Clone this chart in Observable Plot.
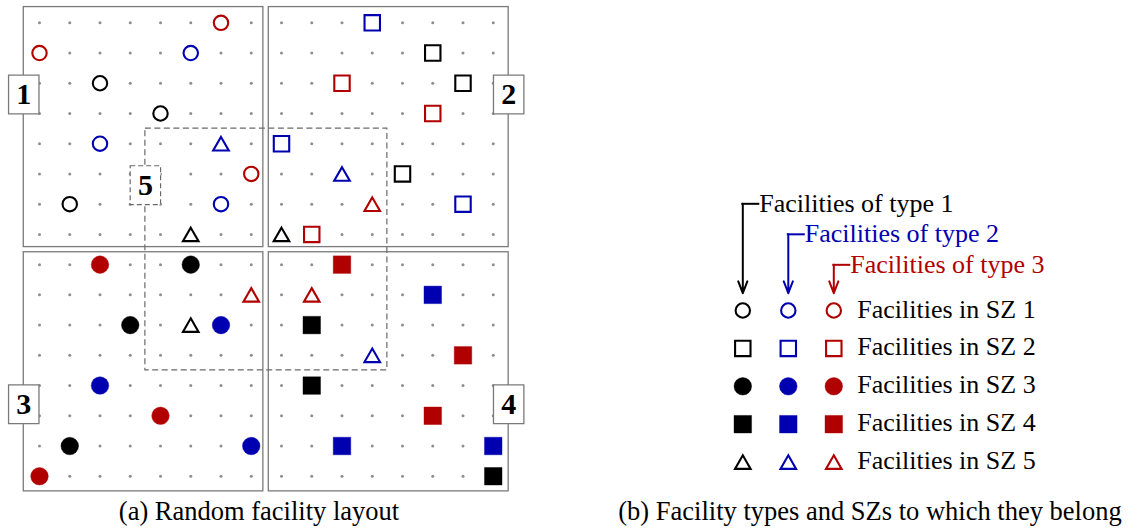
<!DOCTYPE html>
<html>
<head>
<meta charset="utf-8">
<script src="https://cdn.jsdelivr.net/npm/d3@7"></script>
<script src="https://cdn.jsdelivr.net/npm/@observablehq/plot@0.6"></script>
<style>
  body { margin: 0; background: #fff; }
  #figure { position: relative; width: 1134px; height: 529px; overflow: hidden; font-family: "Liberation Serif", serif; }
  #panels { display: flex; }
  #panels svg { display: block; }
  .caption { position: absolute; top: 496px; transform: translateX(-50%); font-size: 26.5px; line-height: 30px; white-space: nowrap; color: #000; }
</style>
</head>
<body>
<div id="figure">
  <div id="panels"></div>
  <div class="caption" style="left:259px">(a) Random facility layout</div>
  <div class="caption" style="left:870px">(b) Facility types and SZs to which they belong</div>
</div>
<script>
// 16 x 16 lattice of candidate sites
const gridCols = d3.range(16);
const gridRows = d3.range(16);

const typeNames = ["type 1", "type 2", "type 3"];
const typeColors = ["#000000", "#0000b0", "#b00000"];
const zoneNames = ["SZ 1", "SZ 2", "SZ 3", "SZ 4", "SZ 5"];
const zoneTags = ["1", "2", "3", "4", "5"];

// sub-zone cell ranges: [firstCol, lastCol, firstRow, lastRow]
const zoneCells = [[0, 7, 0, 7], [8, 15, 0, 7], [0, 7, 8, 15], [8, 15, 8, 15], [4, 11, 4, 11]];

// facility sites for each type: [col, row, zone]
const type1Sites = [[2, 2, 1], [4, 3, 1], [1, 6, 1], [13, 1, 2], [14, 2, 2], [12, 5, 2], [5, 8, 3], [3, 10, 3], [1, 14, 3], [9, 10, 4], [9, 12, 4], [15, 15, 4], [5, 7, 5], [8, 7, 5], [5, 10, 5]];
const type2Sites = [[5, 1, 1], [2, 4, 1], [6, 6, 1], [11, 0, 2], [8, 4, 2], [14, 6, 2], [6, 10, 3], [2, 12, 3], [7, 14, 3], [13, 9, 4], [10, 14, 4], [15, 14, 4], [6, 4, 5], [10, 5, 5], [11, 11, 5]];
const type3Sites = [[6, 0, 1], [0, 1, 1], [7, 5, 1], [10, 2, 2], [13, 3, 2], [9, 7, 2], [2, 8, 3], [4, 13, 3], [0, 15, 3], [10, 8, 4], [14, 11, 4], [13, 13, 4], [11, 6, 5], [7, 9, 5], [9, 9, 5]];

const sites = [type1Sites, type2Sites, type3Sites].flatMap((list, t) =>
  list.map(([col, row, zone]) => ({col, row, zone, type: typeNames[t]})));

// ---- symbols ----
const triangle = {
  draw(ctx, size) {
    const r = Math.sqrt(size / Math.PI), h = r * 0.866;
    ctx.moveTo(0, -h); ctx.lineTo(r, h); ctx.lineTo(-r, h); ctx.closePath();
  }
};
const tagBox = {
  draw(ctx) { ctx.rect(-15.2, -19.4, 30.4, 38.8); }
};
const zoneStyle = {
  1: {symbol: "circle", r: 7.2, hollow: true},
  2: {symbol: "square", r: 8.7, hollow: true},
  3: {symbol: "circle", r: 8.8, hollow: false},
  4: {symbol: "square", r: 9.9, hollow: false},
  5: {symbol: triangle, r: 7.8, hollow: true}
};
function facilityMarks(data, x, y) {
  return [1, 2, 3, 4, 5].map(z => {
    const s = zoneStyle[z];
    const subset = data.filter(d => d.zone === z);
    return s.hollow
      ? Plot.dot(subset, {x, y, symbol: s.symbol, r: s.r, fill: "white", stroke: "type", strokeWidth: 2.1})
      : Plot.dot(subset, {x, y, symbol: s.symbol, r: s.r, fill: "type", stroke: "type", strokeWidth: 0.4});
  });
}

// ---- zone outlines (grid units) ----
const outerPad = 0.52, innerPad = 0.42, dashedPad = 0.5;
const zoneRects = zoneCells.map(([c0, c1, r0, r1], i) => {
  if (i === 4) return {x1: c0 - dashedPad, x2: c1 + dashedPad, y1: r0 - dashedPad, y2: r1 + dashedPad};
  return {
    x1: c0 - (c0 === 0 ? outerPad : innerPad),
    x2: c1 + (c1 === 15 ? outerPad - 0.01 : innerPad - 0.02),
    y1: r0 - (r0 === 0 ? outerPad : innerPad - 0.01),
    y2: r1 + (r1 === 15 ? outerPad - 0.02 : innerPad)
  };
});
// zone number tags sit on a side edge of their zone
const tagPlacement = [["left", 2.37], ["right", 2.37], ["left", 12.62], ["right", 12.62], ["left", 5.37]];
const tags = zoneTags.map((label, i) => ({
  label,
  x: tagPlacement[i][0] === "left" ? zoneRects[i].x1 : zoneRects[i].x2,
  y: tagPlacement[i][1],
  dashed: i === 4
}));

const baseStyle = {fontFamily: "'Liberation Serif', serif", background: "none", overflow: "visible"};
const colorScale = {domain: typeNames, range: typeColors};

const layoutPlot = Plot.plot({
  width: 530,
  height: 495,
  x: {domain: [0, 15], range: [39, 492.75], axis: null},
  y: {domain: [0, 15], range: [22.3, 475.75], axis: null},
  color: colorScale,
  style: baseStyle,
  marks: [
    Plot.dot(d3.cross(gridCols, gridRows), {x: d => d[0], y: d => d[1], r: 1.5, fill: "#8e8e8e"}),
    Plot.rect(zoneRects.slice(0, 4), {x1: "x1", x2: "x2", y1: "y1", y2: "y2", fill: "none", stroke: "#7a7a7a", strokeWidth: 1.3}),
    Plot.rect(zoneRects.slice(4), {x1: "x1", x2: "x2", y1: "y1", y2: "y2", fill: "none", stroke: "#6a6a6a", strokeWidth: 1.2, strokeDasharray: "6,3.5"}),
    ...facilityMarks(sites, "col", "row"),
    Plot.dot(tags.filter(d => !d.dashed), {x: "x", y: "y", symbol: tagBox, fill: "white", stroke: "#7a7a7a", strokeWidth: 1.3}),
    Plot.dot(tags.filter(d => d.dashed), {x: "x", y: "y", symbol: tagBox, fill: "white", stroke: "#6a6a6a", strokeWidth: 1.2, strokeDasharray: "5,3"}),
    Plot.text(tags, {x: "x", y: "y", text: "label", fontSize: 30, fontWeight: "bold", fill: "black"})
  ]
});

// ---- legend panel ----
const legendCells = d3.cross(d3.range(3), d3.range(5)).map(([t, z]) => ({type: typeNames[t], t, z, zone: z + 1}));
const typeRows = typeNames.map((type, t) => ({type, t, level: -2.815 + 0.805 * t}));

const legendPlot = Plot.plot({
  width: 604,
  height: 495,
  x: {domain: [0, 2], range: [212.3, 303.3], axis: null},
  y: {domain: [0, 4], range: [310, 461.6], axis: null},
  color: colorScale,
  style: baseStyle,
  marks: [
    Plot.ruleY(typeRows, {y: "level", x1: "t", x2: d => d.t + 0.352, stroke: "type", strokeWidth: 2, strokeLinecap: "square"}),
    Plot.arrow(typeRows, {x1: "t", y1: "level", x2: "t", y2: d => 0, stroke: "type", strokeWidth: 2, headLength: 9.5, headAngle: 42, insetEnd: 17.3}),
    Plot.text(typeRows, {x: "t", y: "level", text: d => "Facilities of " + d.type, fill: "type", dx: 16.5, dy: -0.6, textAnchor: "start", fontSize: 26}),
    ...facilityMarks(legendCells, "t", "z"),
    Plot.text(zoneNames, {x: d => 2, y: (d, i) => i, text: d => "Facilities in " + d, dx: 23.5, dy: -1.3, textAnchor: "start", fontSize: 26, fill: "black"})
  ]
});

const panels = document.getElementById("panels");
panels.append(layoutPlot, legendPlot);
</script>
</body>
</html>
